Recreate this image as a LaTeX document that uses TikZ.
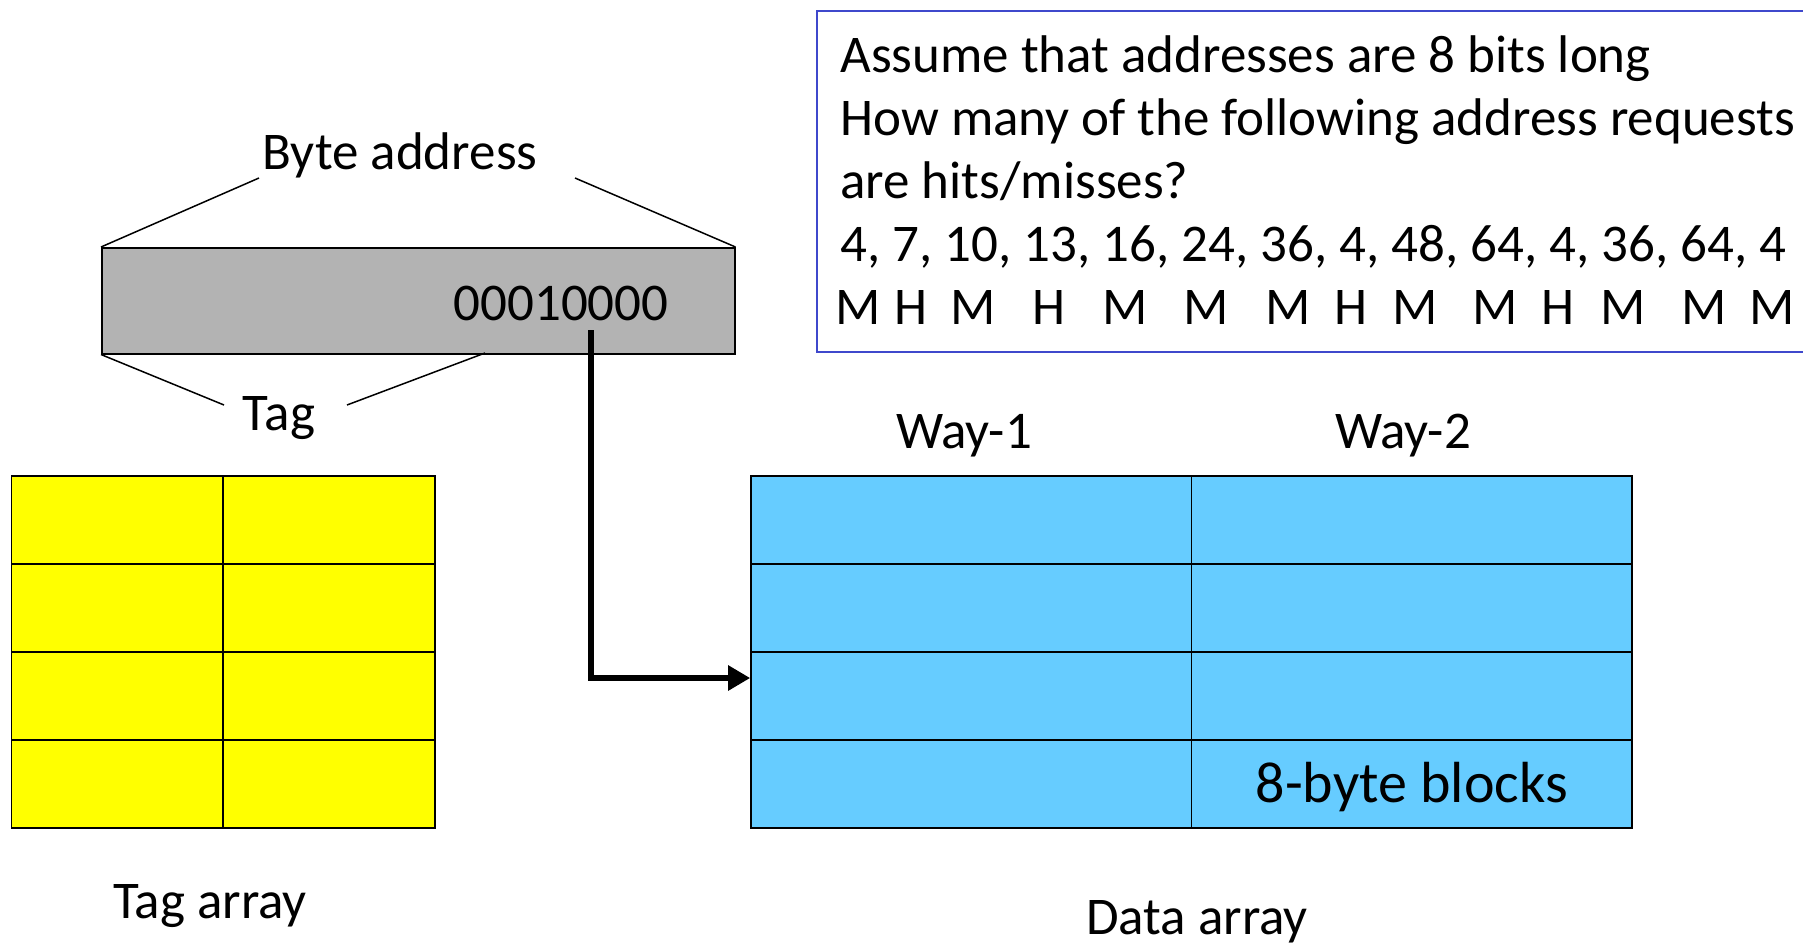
\documentclass[tikz,border=0pt]{standalone}
\usepackage{fontspec}
\setmainfont{Carlito}
\usetikzlibrary{positioning, arrows.meta, calc}
\definecolor{cText}    {HTML}{000000}
\definecolor{cTagFill} {HTML}{FFFF00}
\definecolor{cDataFill}{HTML}{66CCFF}
\definecolor{cAddrFill}{HTML}{B3B3B3}
\definecolor{cFrame}   {HTML}{3F48CC}

\begin{document}
\begin{tikzpicture}[x=0.5pt, y=-0.5pt,
  lbl/.style={font=\fontsize{26.5}{31}\selectfont, text=cText, inner sep=0pt},
  tagcell/.style={draw=black, fill=cTagFill, line width=0.8pt,
    minimum width=105.875pt, minimum height=44pt, inner sep=0pt},
  datacell/.style={draw=black, fill=cDataFill, line width=0.8pt,
    minimum width=220.25pt, minimum height=44pt, inner sep=0pt},
  thin/.style={line width=0.75pt}]
  \useasboundingbox (0,0) rectangle (1803,943);

  % question box (runs off the right edge)
  \node[draw=cFrame, line width=0.9pt, anchor=north west,
        minimum width=560pt, minimum height=170.5pt] (qbox) at (816,10) {};
  \foreach \i/\y/\t in {1/72/{Assume that addresses are 8 bits long},
                        2/135/{How many of the following address requests},
                        3/198/{are hits/misses?},
                        4/261/{4, 7, 10, 13, 16, 24, 36, 4, 48, 64, 4, 36, 64, 4}}
    \node[lbl, anchor=base west] (q\i) at (840,\y) {\t};
  % hit / miss row
  \foreach \x/\r [count=\n] in {858/M, 911/H, 973/M, 1049/H, 1125/M, 1206/M, 1288/M,
                                1351/H, 1415/M, 1495/M, 1558/H, 1623/M, 1704/M, 1772/M}
    \node[lbl, anchor=base] (hm\n) at (\x,324) {\r};

  % byte address
  \node[draw=black, fill=cAddrFill, thin, anchor=north west, inner sep=0pt,
        minimum width=316.5pt, minimum height=53pt] (addr) at (101,247) {};
  \node[lbl] (bits) at (561,303) {00010000};
  \node[lbl] (bytelbl) at (400,155) {Byte address};
  \node[lbl] (taglbl) at (279,418) {Tag};
  \coordinate (bal) at (259,178);
  \coordinate (bar) at (575,178);
  \coordinate (tgl) at (224,405);
  \coordinate (tgr) at (347,405);
  \coordinate (tagend) at (485,353);
  \draw[thin] (addr.north west) -- (bal);
  \draw[thin] (addr.north east) -- (bar);
  \draw[thin] (addr.south west) -- (tgl);
  \draw[thin] (tagend) -- (tgr);

  % tag array and data array, 4 sets x 2 ways
  \foreach \r in {0,1,2,3}{
    \foreach \c/\w in {0/a, 1/b}{
      \node[tagcell]  (t\r\w) at (117.375+\c*211.75, 520+\r*88) {};
      \node[datacell] (d\r\w) at (971.25+\c*440.5, 520+\r*88) {};
    }
  }
  \node[font=\fontsize{29}{34}\selectfont, text=cText] (blk) at ($(d3b)+(0,3)$) {8-byte blocks};
  \node[lbl] (way1) at (964,436) {Way-1};
  \node[lbl] (way2) at (1403,436) {Way-2};
  \node[lbl] (tagarr) at (210,906) {Tag array};
  \node[lbl] (dataarr) at (1197,922) {Data array};

  % index bits select the set
  \coordinate (idx) at (591,330);
  \coordinate (hit) at ($(d2a.west)+(0,-18)$);
  \draw[line width=3pt, -{Triangle[length=11pt, width=12pt]}]
    (idx) |- (hit);
\end{tikzpicture}
\end{document}
